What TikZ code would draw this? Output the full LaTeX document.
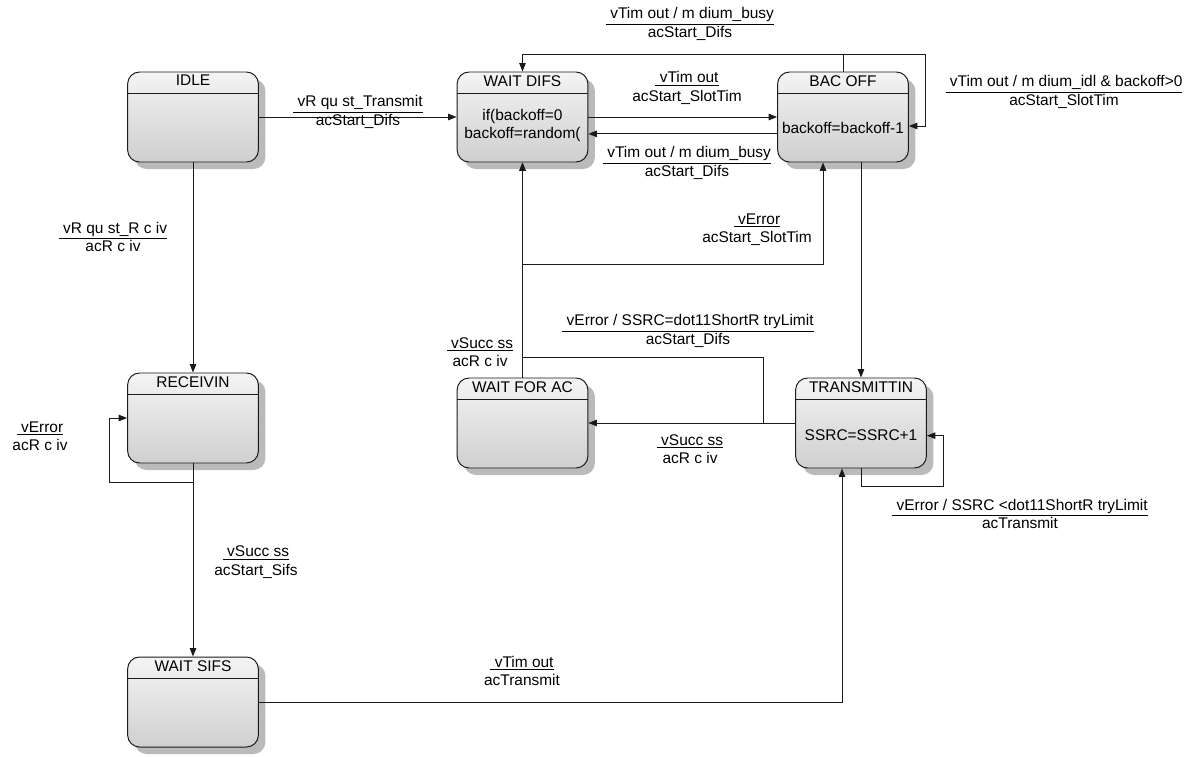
\documentclass[tikz,border=0pt]{standalone}
\usepackage{fontspec}
\setmainfont{Liberation Sans}
\usetikzlibrary{arrows.meta,calc,shadows}
\definecolor{Ink}{HTML}{1A1A1A}
\definecolor{StateTop}{HTML}{F4F4F4}
\definecolor{StateBottom}{HTML}{CFCFCF}
\definecolor{Shade}{HTML}{9C9C9C}
\newcommand{\evt}[1]{\underline{\ #1}}
\tikzset{state/.style={rounded corners=8.5pt,draw=Ink,line width=.7pt,top color=StateTop,bottom color=StateBottom,minimum width=93pt,minimum height=64pt,inner sep=0pt,drop shadow={shadow xshift=5pt,shadow yshift=-5pt,fill=Shade,opacity=.7},path picture={\draw[Ink,line width=.7pt]([yshift=-15pt]path picture bounding box.north west)--([yshift=-15pt]path picture bounding box.north east);},label={[anchor=north,yshift=-1.5pt,inner sep=1pt]north:#1}},body/.style={align=center,inner sep=0pt},lbl/.style={align=center,inner sep=1pt},flow/.style={-{Triangle[length=6pt,width=4.6pt]},line width=.7pt,draw=Ink}}
\begin{document}
\begin{tikzpicture}[x=.025cm,y=-.025cm,every node/.style={font=\fontsize{11}{13}\selectfont}]
  \useasboundingbox (0,0) rectangle (1189,756);
  \node[state=IDLE](idle) at (193,117){};
  \node[state=WAIT DIFS](wdifs) at (522.5,117){};
  \node[state=BAC  OFF](backoff) at (843,117){};
  \node[state=RECEIVIN](recv) at (193,418){};
  \node[state=WAIT FOR AC](wack) at (522.5,423){};
  \node[state=TRANSMITTIN](trans) at (861,423){};
  \node[state=WAIT SIFS](wsifs) at (193,702){};
  \node[body](wdifsB) at ([yshift=-6pt]wdifs.center){if(backoff=0\\backoff=random(};
  \node[body](backoffB) at ([yshift=-8pt]backoff.center){backoff=backoff-1};
  \node[body](transB) at ([yshift=-8.5pt]trans.center){SSRC=SSRC+1};
  \coordinate (topL) at (522.5,54);\coordinate (topR) at (925,54);\coordinate (loopB) at (925,126);
  \coordinate (rxLoop) at (109,482);\coordinate (txLoop) at (943,486);
  \coordinate (errJ) at (763,357);\coordinate (slotJ) at (823,264);
  \draw[flow](idle)--(wdifs);\draw[flow](wdifs)--(backoff);
  \draw[flow]([yshift=-12pt]backoff.west)--([yshift=-12pt]wdifs.east);
  \draw[flow](backoff.north)|-(topL)--(wdifs.north);
  \draw[flow](backoff.north)|-(topR)--(loopB)--(loopB-|backoff.east);
  \draw[flow](backoff.south-|trans.north)--(trans.north);
  \draw[flow](wack.north)|-(slotJ)--(slotJ|-backoff.south);
  \draw[flow](wack.north)--(wdifs.south);
  \draw[flow](trans.west)-|(errJ)-|(wdifs.south);
  \draw[flow](trans.west)--(wack.east);
  \draw[flow](trans.south)|-(txLoop)|-([yshift=-9pt]trans.east);
  \draw[flow](wsifs.east)-|([xshift=-13.5pt]trans.south);
  \draw[flow](idle.south)--(recv.north);\draw[flow](recv.south)--(wsifs.north);
  \draw[flow](recv.south)|-(rxLoop)|-(recv.west);
  % transition labels
  \node[lbl](lTr) at (358,112){\evt{vR qu st\_Transmit}\\acStart\_Difs};
  \node[lbl](lTop) at (690,24){\evt{vTim out / m dium\_busy}\\acStart\_Difs};
  \node[lbl](lSlot) at (687,88){\evt{vTim out}\\acStart\_SlotTim};
  \node[lbl](lBusy) at (687,163){\evt{vTim out / m dium\_busy}\\acStart\_Difs};
  \node[lbl](lIdle) at (1064,92){\evt{vTim out / m dium\_idl \& backoff>0}\\acStart\_SlotTim};
  \node[lbl](lErrSlot) at (757,230){\evt{vError}\\acStart\_SlotTim};
  \node[lbl](lReq) at (113,237){\evt{vR qu st\_R c iv}\\acR c iv};
  \node[lbl](lSucc1) at (480,352){\evt{vSucc ss}\\acR c iv};
  \node[lbl](lErrLim) at (688,331){\evt{vError / SSRC=dot11ShortR tryLimit}\\acStart\_Difs};
  \node[lbl](lSucc2) at (690,449){\evt{vSucc ss}\\acR c iv};
  \node[lbl](lErrRx) at (40,436){\evt{vError}\\acR c iv};
  \node[lbl](lErrTx) at (1020,514){\evt{vError / SSRC <dot11ShortR tryLimit}\\acTransmit};
  \node[lbl](lSifs) at (256,562){\evt{vSucc ss}\\acStart\_Sifs};
  \node[lbl](lTx) at (522,671){\evt{vTim out}\\acTransmit};
\end{tikzpicture}
\end{document}
